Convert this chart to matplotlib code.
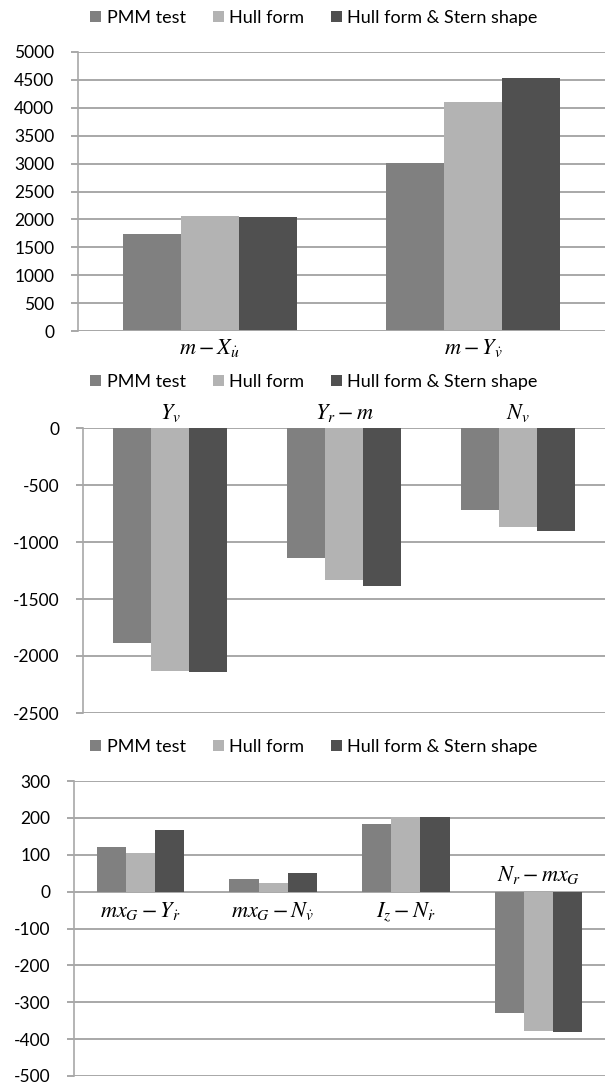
import numpy as np
import matplotlib
matplotlib.use("Agg")
import matplotlib.pyplot as plt
from matplotlib.patches import Patch

plt.rcParams["font.family"] = ["Lato", "DejaVu Sans"]
plt.rcParams["mathtext.fontset"] = "stix"
plt.rcParams["axes.unicode_minus"] = False

# ─────────────────────────────────────────────
# DATA
# ─────────────────────────────────────────────
SERIES = ["PMM test", "Hull form", "Hull form & Stern shape"]
COLORS = ["#808080", "#b3b3b3", "#505050"]

cats_1 = [r"$m-X_{\dot{u}}$", r"$m-Y_{\dot{v}}$"]
pmm_1 = [1735, 3015]
hull_1 = [2068, 4095]
stern_1 = [2038, 4532]

cats_2 = [r"$Y_v$", r"$Y_r-m$", r"$N_v$"]
pmm_2 = [-1882, -1140, -718]
hull_2 = [-2130, -1330, -867]
stern_2 = [-2143, -1388, -901]

cats_3 = [r"$mx_G-Y_{\dot{r}}$", r"$mx_G-N_{\dot{v}}$", r"$I_z-N_{\dot{r}}$", r"$N_r-mx_G$"]
pmm_3 = [122, 35, 184, -328]
hull_3 = [106, 23, 202, -379]
stern_3 = [167, 50, 202, -381]

W, H = 605, 1086
GRID = "#a8a8a8"


def px_axes(fig, left, top, bottom, right=W):
    return fig.add_axes([left / W, 1 - bottom / H, (right - left) / W, (bottom - top) / H])


def draw_bars(ax, cats, series_vals, ylim, step):
    x = np.arange(len(cats))
    width = 0.22
    for k, (vals, col) in enumerate(zip(series_vals, COLORS)):
        ax.bar(x + (k - 1) * width, vals, width, color=col, zorder=3, linewidth=0)
    ax.set_xlim(-0.5, len(cats) - 0.5)
    ax.set_ylim(*ylim)
    ax.set_yticks(np.arange(ylim[0], ylim[1] + 1, step))
    ax.yaxis.grid(True, color=GRID, linewidth=1.4, zorder=0)
    ax.set_axisbelow(True)
    for s in ["top", "right", "bottom"]:
        ax.spines[s].set_visible(False)
    ax.spines["left"].set_color(GRID)
    ax.spines["left"].set_linewidth(1.2)
    ax.tick_params(axis="y", length=5, width=1.4, color=GRID, labelsize=12.5,
                   labelcolor="#000000", pad=12)
    ax.tick_params(axis="x", length=0)
    return x


def add_legend(fig, y_px):
    handles = [Patch(facecolor=c, edgecolor="none") for c in COLORS]
    fig.legend(handles, SERIES, loc="center", bbox_to_anchor=(314 / W, 1 - y_px / H),
               ncol=3, frameon=False, fontsize=13, handlelength=0.6, handleheight=0.6,
               handletextpad=0.3, columnspacing=1.5, borderpad=0, borderaxespad=0)


fig = plt.figure(figsize=(W / 100, H / 100), dpi=100)

# panel 1
ax1 = px_axes(fig, 78, 52, 331)
x1 = draw_bars(ax1, cats_1, [pmm_1, hull_1, stern_1], (0, 5000), 500)
ax1.axhline(0, color=GRID, linewidth=1.4, zorder=4)
ax1.set_xticks(x1)
ax1.set_xticklabels(cats_1, fontsize=16)
ax1.tick_params(axis="x", pad=4)
add_legend(fig, 18)

# panel 2
ax2 = px_axes(fig, 83, 428, 713)
x2 = draw_bars(ax2, cats_2, [pmm_2, hull_2, stern_2], (-2500, 0), 500)
ax2.xaxis.tick_top()
ax2.set_xticks(x2)
ax2.set_xticklabels(cats_2, fontsize=16)
ax2.tick_params(axis="x", pad=3)
add_legend(fig, 382)

# panel 3
ax3 = px_axes(fig, 74, 781, 1076)
x3 = draw_bars(ax3, cats_3, [pmm_3, hull_3, stern_3], (-500, 300), 100)
ax3.set_xticks([])
for xi, lab, v in zip(x3, cats_3, pmm_3):
    if v >= 0:
        ax3.annotate(lab, (xi, 0), xytext=(0, -6), textcoords="offset points",
                     ha="center", va="top", fontsize=16)
    else:
        ax3.annotate(lab, (xi, 0), xytext=(0, 4), textcoords="offset points",
                     ha="center", va="bottom", fontsize=16)
add_legend(fig, 747)

fig.savefig("out.png", dpi=100)
